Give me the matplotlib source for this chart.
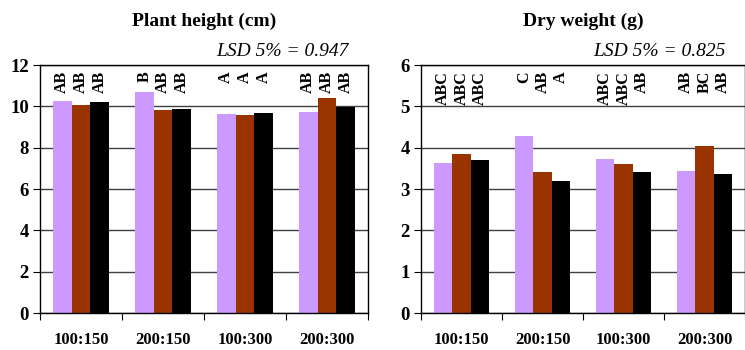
import matplotlib
matplotlib.use("Agg")
import matplotlib.pyplot as plt
import numpy as np

plt.rcParams['font.family'] = ['Liberation Serif', 'DejaVu Serif']

categories = ["100:150", "200:150", "100:300", "200:300"]
colors = ["#CC99FF", "#993300", "#000000"]

height_vals = [
    [10.25, 10.7, 9.65, 9.75],
    [10.05, 9.8, 9.6, 10.4],
    [10.2, 9.85, 9.7, 9.95],
]
height_letters = [
    ["AB", "B", "A", "AB"],
    ["AB", "AB", "A", "AB"],
    ["AB", "AB", "A", "AB"],
]

weight_vals = [
    [3.63, 4.29, 3.73, 3.44],
    [3.85, 3.40, 3.61, 4.03],
    [3.69, 3.20, 3.40, 3.37],
]
weight_letters = [
    ["ABC", "C", "ABC", "AB"],
    ["ABC", "AB", "ABC", "BC"],
    ["ABC", "A", "AB", "AB"],
]

fig = plt.figure(figsize=(7.45, 3.5), dpi=100)
ax1 = fig.add_axes([40/745, 1-313/350, 328/745, 248/350])
ax2 = fig.add_axes([421/745, 1-313/350, 324/745, 248/350])

panels = [
    (ax1, height_vals, height_letters, 12, 2, "Plant height (cm)", "LSD 5% = 0.947"),
    (ax2, weight_vals, weight_letters, 6, 1, "Dry weight (g)", "LSD 5% = 0.825"),
]

x = np.arange(len(categories))
w = 0.228
for ax, vals, letters, ymax, step, title, lsd in panels:
    for i in range(3):
        ax.bar(x + (i - 1) * w, vals[i], width=w, color=colors[i], zorder=2)
        for j in range(len(categories)):
            ax.text(x[j] + (i - 1) * w, ymax - ymax * 0.025, letters[i][j],
                    rotation=90, ha='center', va='top', fontsize=11.5,
                    fontweight='bold', zorder=3)
    ax.set_xlim(-0.5, 3.5)
    ax.set_ylim(0, ymax)
    yt = np.arange(0, ymax + step, step)
    ax.set_yticks(yt, [str(v) for v in yt], fontsize=13.5, fontweight='bold')
    ax.yaxis.grid(True, color='#404040', linewidth=1, zorder=0)
    ax.set_axisbelow(True)
    ax.set_xticks(np.arange(-0.5, 4, 1))
    ax.set_xticklabels([])
    ax.set_xticks(x, minor=True)
    ax.set_xticklabels(categories, minor=True, fontsize=12, fontweight='bold')
    ax.tick_params(axis='x', which='minor', length=0, pad=14)
    ax.tick_params(axis='x', which='major', length=5, direction='out', color='black')
    ax.tick_params(axis='y', length=5, direction='out', pad=3)
    for s in ax.spines.values():
        s.set_color('black')
        s.set_linewidth(1)
    ax.set_title(title, fontsize=14, fontweight='bold', pad=28)
    ax.text(0.94, 1.02, lsd, transform=ax.transAxes, ha='right', va='bottom',
            fontsize=14, style='italic')

fig.savefig("out.png", dpi=100)
